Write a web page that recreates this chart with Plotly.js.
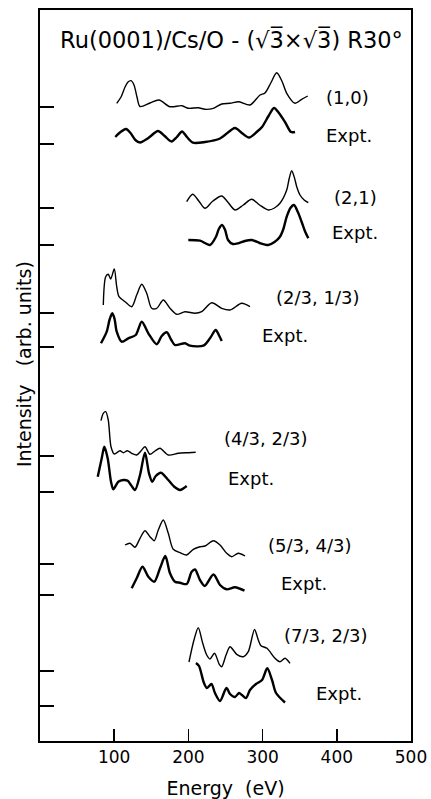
<!DOCTYPE html>
<html><head><meta charset="utf-8">
<script src="https://cdn.plot.ly/plotly-3.0.1.min.js"></script>
<style>html,body{margin:0;padding:0;background:#fff}#chart{width:431px;height:799px}</style>
</head><body><div id="chart"></div>
<script>
// Energy tick labels
const energyTicks = [100, 200, 300, 400, 500];
// Baseline of each curve (arbitrary intensity units), top to bottom
const baselines = [634, 597, 533, 496, 428, 394, 285, 249, 177, 146, 70, 35];
const beamLabels = ['(1,0)', 'Expt.', '(2,1)', 'Expt.', '(2/3, 1/3)', 'Expt.', '(4/3, 2/3)', 'Expt.', '(5/3, 4/3)', 'Expt.', '(7/3, 2/3)', 'Expt.'];

// (1,0) theory
const e10th = [103.4, 109.2, 114.6, 118.6, 122.6, 126.7, 130.7, 134.8, 148.2, 160.4, 175.2, 191.4, 199.9, 213.3, 222.4, 233.6, 244.9, 256.1, 268.2, 283.0, 296.5, 303.2, 311.0, 319.0, 326.0, 332.5, 343.7, 352.7, 360.8];
const i10th = [3.7, 10, 20, 25, 26.3, 22, 10, 0.5, 4, 7, 0.3, 1.3, -1.3, -0.7, -2.3, -1.3, 3, 3.7, 5.3, 2, 12, 14, 24, 34.3, 26, 13.7, 3.7, 7.7, 11];
// (1,0) experiment
const e10ex = [101.5, 108.5, 115.9, 122, 128.5, 134.8, 146, 159, 168, 177.2, 184.5, 191.4, 198, 206.2, 222.4, 242.6, 262.8, 272, 281.7, 292, 299.2, 308, 315.4, 322, 330.2, 338.3, 343.7];
const i10ex = [7, 12, 15, 11, 4, 1.5, 6, 13, 8, 2.5, 7, 12.5, 7, 1.3, 2, 5.5, 16, 11, 6.5, 12, 17, 28, 36, 31, 22, 12, 12];
// (2,1) theory
const e21th = [197.7, 205.8, 214, 222.4, 233, 244.9, 253, 262.8, 274, 285.3, 296, 307.7, 316, 323.4, 332.5, 336, 339.2, 343, 346, 350.4, 356, 361.6];
const i21th = [6.3, 13.7, 7, -0.3, 7, 12, 6, -2, 3, 8.7, 3, -2, 0, 4.7, 18, 30, 37.3, 30, 21.3, 13, 8, 5.3];
// (2,1) experiment
const e21ex = [199.9, 215.6, 229.1, 237, 241, 245.3, 249.5, 253.4, 260, 267.2, 276, 285.7, 296, 307.7, 316, 323.4, 328, 332.5, 337.5, 342.3, 347.5, 352.7, 357, 361.6];
const i21ex = [5, 4.3, 0, 8, 16, 20, 15, 5, 1, 1.7, 4, 5, 2, 0, 3, 8.3, 16, 28.3, 37, 40, 33, 23, 14, 6.7];
// (2/3,1/3) theory
const e2313th = [85.3, 88.5, 92, 95.3, 100.1, 103.4, 106.5, 114.6, 123.6, 130.3, 137.1, 143.8, 150.5, 157.3, 166.2, 175.2, 184.2, 195.4, 208.9, 217.9, 231.4, 244.9, 256.1, 271.8, 283];
const i2313th = [8, 36.3, 38.7, 34, 44, 26.3, 16.3, 11.3, 6.3, 18, 28.7, 19.7, 4.7, 4.7, 13, 4.7, -1.3, 1.3, -0.3, 1.3, 10.3, 4.7, 3, 9.7, 6.3];
// (2/3,1/3) experiment
const e2313ex = [82.2, 89.9, 94, 97.4, 100.5, 103.4, 110.1, 119, 129, 137.1, 146, 157.3, 164, 170.8, 177, 181.9, 195.4, 202.2, 220.1, 229.1, 236.8, 241, 244.9];
const i2313ex = [3.7, 15.3, 28, 33.7, 28, 15.3, 5.3, 8.7, 12, 25.3, 13.7, 2.7, 11, 14.7, 7, 2, 3.7, 1.3, 1.3, 8.7, 17, 12, 6];
// (4/3,2/3) theory
const e4323th = [82.2, 85.3, 88.5, 92, 95.7, 100.1, 107.8, 112.3, 117.7, 123.6, 130.3, 136, 141.5, 148.2, 155, 161.7, 172.9, 186.4, 199.9, 209.8];
const i4323th = [35.3, 42.7, 44.3, 36, 9.3, 2, 5.3, 3.3, 5.3, 2.7, 1, 5, 9.3, 1.7, 5, 7.7, 1, 2.7, 3.3, 3.7];
// (4/3,2/3) experiment
const e4323ex = [77.8, 83.2, 86.7, 91.2, 95.7, 98.8, 105.5, 112.3, 118.2, 122.6, 128, 134.8, 141.5, 146.9, 151.3, 156, 163.1, 172.9, 181.9, 188.7, 197.7];
const i4323ex = [15.3, 33.7, 45.3, 33.7, 10.3, 2.7, 10.3, 12, 11.3, 7, 2, 17, 39.3, 18.7, 10.3, 16, 19.3, 12, 4.7, 2, 6];
// (5/3,4/3) theory
const e5343th = [114.6, 121.3, 128, 134.8, 141.5, 148.2, 154, 159.4, 166.2, 172.9, 179.6, 188.7, 197.7, 206.6, 215.6, 222.4, 233.6, 242.6, 251.6, 258.4, 267.2, 276.3];
const i5343th = [19, 20.7, 16.7, 25.7, 33.3, 27.3, 23.3, 34, 44, 30.7, 14.7, 11.3, 9, 14.7, 17.3, 18, 23.3, 19, 10.7, 7.3, 10.7, 8];
// (5/3,4/3) experiment
const e5343ex = [123.6, 130.3, 138.1, 146, 154, 161.7, 168.9, 175.2, 181.9, 188.7, 197.7, 204.4, 208.9, 215.6, 222, 233.8, 242.6, 251.6, 262.8, 275.6];
const i5343ex = [6.7, 16.7, 28.3, 18.3, 13.3, 26.7, 39, 21.7, 13.3, 12.3, 11, 23.3, 25.5, 15, 9, 20.5, 10, 5.7, 7.7, 4.3];
// (7/3,2/3) theory
const e7323th = [200.8, 207.5, 213.3, 219.3, 224.7, 229.1, 235.2, 241.6, 244.9, 250.7, 256.1, 265.1, 274, 280.7, 289.1, 294.2, 297.8, 305.9, 316.7, 323.4, 330.2, 336.9];
const i7323th = [9, 31, 43.3, 27.7, 16, 12, 17.7, 6.7, 4.3, 16, 24.3, 16.7, 14.3, 19.3, 41.5, 31, 25.3, 22.7, 12.7, 9.3, 12.7, 7.7];
// (7/3,2/3) experiment
const e7323ex = [210.2, 214.3, 221, 225.1, 231.1, 235.8, 242.6, 251.3, 256.1, 262.8, 268.2, 272.2, 277.6, 283, 291.1, 299.2, 306.3, 312.7, 318.1, 330.2];
const i7323ex = [43, 40, 23, 18, 22, 13, 5, 18, 12, 9, 13, 11, 8, 16, 22, 26, 37.7, 26, 13, 3.5];

const curves = [
  [e10th, i10th], [e10ex, i10ex],
  [e21th, i21th], [e21ex, i21ex],
  [e2313th, i2313th], [e2313ex, i2313ex],
  [e4323th, i4323th], [e4323ex, i4323ex],
  [e5343th, i5343th], [e5343ex, i5343ex],
  [e7323th, i7323th], [e7323ex, i7323ex]
];

// label anchor positions (energy, intensity units)
const labelPos = [
  [383, 644], [383, 606], [394, 544], [391, 509], [316, 444], [296, 406],
  [245, 303], [251, 263], [305, 196], [322, 158], [326, 106], [369, 48]
];

const FONT = 'DejaVu Sans, sans-serif';
const NB = '\u00A0';
const traces = curves.map((c, k) => ({
  x: c[0],
  y: c[1].map(v => baselines[k] + v),
  type: 'scatter', mode: 'lines',
  line: {color: '#000', width: k % 2 === 0 ? 1.4 : 2.4, shape: 'spline', smoothing: 0.8},
  hoverinfo: 'skip'
}));

const annotations = beamLabels.map((t, k) => ({
  text: t.replace(' ', NB), x: labelPos[k][0], y: labelPos[k][1], xref: 'x', yref: 'y',
  xanchor: 'left', yanchor: 'middle', showarrow: false,
  font: {family: FONT, size: 18, color: '#000'}
}));
annotations.push({
  text: 'Intensity' + NB + NB + NB + '(arb.' + NB + 'units)', textangle: -90,
  xref: 'paper', yref: 'paper', x: -0.045, y: 0.516, xanchor: 'center', yanchor: 'middle',
  showarrow: false, font: {family: FONT, size: 19, color: '#000'}
});

const layout = {
  width: 431, height: 799,
  margin: {l: 40, r: 20, t: 10, b: 58},
  paper_bgcolor: '#fff', plot_bgcolor: '#fff',
  showlegend: false,
  title: {
    text: 'Ru(0001)/Cs/O - (√3\u0305×√3\u0305) R30°',
    xref: 'paper', yref: 'paper', x: 0.516, y: 0.959, xanchor: 'center', yanchor: 'middle',
    font: {family: FONT, size: 22.5, color: '#000'}
  },
  xaxis: {
    range: [0, 500], tickvals: energyTicks, ticktext: energyTicks.map(String),
    ticks: 'inside', ticklen: 12, tickwidth: 1.5, tickcolor: '#000',
    showline: true, linewidth: 2, linecolor: '#000', mirror: true,
    showgrid: false, zeroline: false,
    tickfont: {family: FONT, size: 17, color: '#000'},
    title: {text: 'Energy' + NB + NB + '(eV)', font: {family: FONT, size: 19, color: '#000'}, standoff: 20}
  },
  yaxis: {
    range: [0, 731], tickvals: baselines, showticklabels: false,
    ticks: 'inside', ticklen: 14, tickwidth: 1.5, tickcolor: '#000',
    showline: true, linewidth: 2, linecolor: '#000', mirror: true,
    showgrid: false, zeroline: false
  },
  annotations: annotations
};

Plotly.newPlot('chart', traces, layout, {displayModeBar: false, staticPlot: true});
</script></body></html>
